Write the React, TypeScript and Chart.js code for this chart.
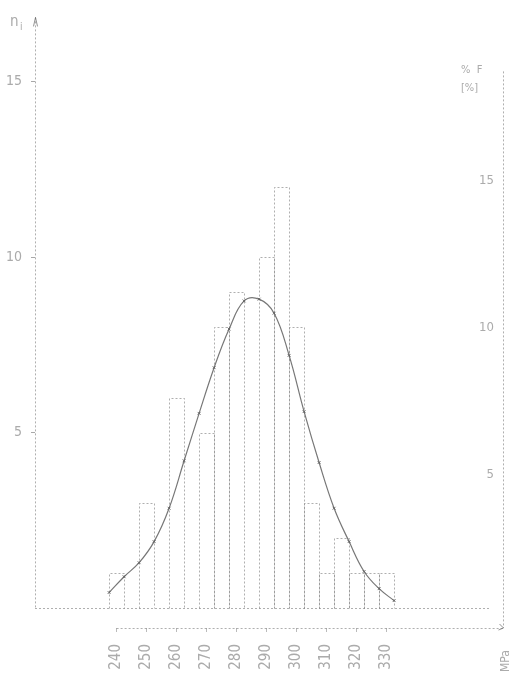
import { useEffect, useRef } from 'react';
import { Chart, registerables } from 'chart.js';

Chart.register(...registerables);

// Histogram: class centres (MPa) and absolute frequencies n_i
const binCenters = [240, 245, 250, 255, 260, 265, 270, 275, 280, 285, 290, 295, 300, 305, 310, 315, 320, 325, 330];
const counts = [1, 0, 3, 0, 6, 0, 5, 8, 9, 0, 10, 12, 8, 3, 1, 2, 1, 1, 1];

// Fitted curve read at the class boundaries
const curveX = [237.5, 242.5, 247.5, 252.5, 257.5, 262.5, 267.5, 272.5, 277.5, 282.5, 287.5, 292.5, 297.5, 302.5, 307.5, 312.5, 317.5, 322.5, 327.5, 332.5];
const curveY = [0.45, 0.9, 1.3, 1.9, 2.85, 4.2, 5.55, 6.85, 7.95, 8.75, 8.8, 8.4, 7.2, 5.6, 4.15, 2.85, 1.9, 1.05, 0.56, 0.22];

// Tick labels
const xTickLabels = [240, 250, 260, 270, 280, 290, 300, 310, 320, 330];
const leftTicks = [5, 10, 15];
const rightTicks = [5, 10, 15];

const FONT = '"DejaVu Sans Condensed", "DejaVu Sans", sans-serif';
const TEXT = '#ababab';
const LINE = 'rgba(110,110,110,0.55)';

const histPlugin = {
  id: 'histOutline',
  beforeDatasetsDraw(chart: any) {
    const meta = chart.getDatasetMeta(0);
    const ctx = chart.ctx;
    const data = chart.data.datasets[0].data as any[];
    ctx.save();
    ctx.strokeStyle = LINE;
    ctx.lineWidth = 1;
    ctx.setLineDash([2, 2]);
    meta.data.forEach((el: any, i: number) => {
      if (!data[i] || !data[i].y) return;
      const p = el.getProps(['x', 'y', 'base', 'width'], true);
      const l = Math.round(p.x - p.width / 2) + 0.5;
      const r = Math.round(p.x + p.width / 2) + 0.5;
      const t = Math.round(p.y) + 0.5;
      const b = Math.round(p.base) + 0.5;
      ctx.beginPath();
      ctx.moveTo(l, b);
      ctx.lineTo(l, t);
      ctx.lineTo(r, t);
      ctx.lineTo(r, b);
      ctx.stroke();
    });
    ctx.restore();
  },
};

const decoPlugin = {
  id: 'deco',
  afterDraw(chart: any) {
    const { ctx, chartArea } = chart;
    const x = chart.scales.x;
    const yL = chart.scales.y;
    ctx.save();
    ctx.strokeStyle = LINE;
    ctx.lineWidth = 1;
    ctx.setLineDash([2, 2]);
    const y0 = Math.round(yL.getPixelForValue(0)) + 0.5;
    // baseline
    ctx.beginPath();
    ctx.moveTo(chartArea.left, y0);
    ctx.lineTo(chartArea.right - 13, y0);
    ctx.stroke();
    // lower (value) axis
    const yb = Math.round(chartArea.bottom) + 0.5;
    ctx.beginPath();
    ctx.moveTo(x.getPixelForValue(240), yb);
    ctx.lineTo(chartArea.right, yb);
    ctx.stroke();
    // left axis
    const xl = Math.round(chartArea.left) + 0.5;
    ctx.beginPath();
    ctx.moveTo(xl, chartArea.top);
    ctx.lineTo(xl, y0);
    ctx.stroke();
    // right axis
    const xr = Math.round(chartArea.right) + 0.5;
    ctx.beginPath();
    ctx.moveTo(xr, chartArea.top + 54);
    ctx.lineTo(xr, chartArea.bottom);
    ctx.stroke();
    ctx.setLineDash([]);
    // arrowheads
    ctx.strokeStyle = 'rgba(100,100,100,0.7)';
    ctx.beginPath();
    ctx.moveTo(xl - 2, chartArea.top + 9);
    ctx.lineTo(xl, chartArea.top);
    ctx.lineTo(xl + 2, chartArea.top + 9);
    ctx.stroke();
    ctx.beginPath();
    ctx.moveTo(xr - 4, chartArea.bottom - 4);
    ctx.lineTo(xr, chartArea.bottom);
    ctx.lineTo(xr - 5, chartArea.bottom + 2);
    ctx.stroke();
    // texts
    ctx.fillStyle = TEXT;
    ctx.textBaseline = 'alphabetic';
    ctx.textAlign = 'left';
    ctx.font = `15px ${FONT}`;
    ctx.fillText('n', 10, 26);
    ctx.font = `10px ${FONT}`;
    ctx.fillText('i', 20, 30);
    ctx.font = `11px ${FONT}`;
    ctx.fillText('%  F', 461, 73);
    ctx.fillText('[%]', 461, 91);
    ctx.save();
    ctx.translate(509, 672);
    ctx.rotate(-Math.PI / 2);
    ctx.font = `12px ${FONT}`;
    ctx.fillText('MPa', 0, 0);
    ctx.restore();
    ctx.restore();
  },
};

export default function App() {
  const ref = useRef<HTMLCanvasElement>(null);

  useEffect(() => {
    if (!ref.current) return;
    const chart = new Chart(ref.current, {
      type: 'line',
      data: {
        datasets: [
          {
            type: 'bar',
            label: 'n_i',
            data: binCenters.map((c, i) => ({ x: c, y: counts[i] })),
            backgroundColor: 'rgba(0,0,0,0)',
            borderWidth: 0,
            barPercentage: 1,
            categoryPercentage: 1,
            yAxisID: 'y',
            order: 2,
          } as any,
          {
            type: 'line',
            label: 'fit',
            data: curveX.map((v, i) => ({ x: v, y: curveY[i] })),
            borderColor: 'rgba(95,95,95,0.85)',
            borderWidth: 1.2,
            tension: 0.4,
            pointStyle: 'crossRot',
            pointRadius: 2,
            pointBorderWidth: 1,
            pointBorderColor: 'rgba(95,95,95,0.9)',
            pointBackgroundColor: 'rgba(0,0,0,0)',
            fill: false,
            yAxisID: 'y',
            order: 1,
          } as any,
        ],
      },
      options: {
        animation: false,
        responsive: true,
        maintainAspectRatio: false,
        events: [],
        layout: { padding: { top: 6, left: 0, right: 0, bottom: 0 } },
        plugins: {
          legend: { display: false },
          tooltip: { enabled: false },
          title: { display: false },
        },
        scales: {
          x: {
            type: 'linear',
            min: 212.8,
            max: 368.8,
            offset: false,
            afterFit: (s: any) => { s.height = 49; },
            afterBuildTicks: (s: any) => { s.ticks = xTickLabels.map((v) => ({ value: v })); },
            border: { display: false },
            grid: { display: true, drawOnChartArea: false, drawTicks: true, tickLength: 4, color: 'rgba(120,120,120,0.5)', offset: false },
            ticks: {
              autoSkip: false,
              minRotation: 90,
              maxRotation: 90,
              padding: 12,
              color: TEXT,
              font: { family: FONT, size: 15 },
              callback: (v: any) => String(v),
            },
          },
          y: {
            type: 'linear',
            position: 'left',
            min: -0.559,
            max: 16.82,
            afterFit: (s: any) => { s.width = 35; },
            afterBuildTicks: (s: any) => { s.ticks = leftTicks.map((v) => ({ value: v })); },
            border: { display: false },
            grid: { display: true, drawOnChartArea: false, drawTicks: true, tickLength: 4, color: 'rgba(110,110,110,0.6)' },
            ticks: { padding: 9, color: TEXT, font: { family: FONT, size: 14 } },
          },
          y2: {
            type: 'linear',
            position: 'right',
            min: -0.2,
            max: 20.53,
            afterFit: (s: any) => { s.width = 8; },
            afterBuildTicks: (s: any) => { s.ticks = rightTicks.map((v) => ({ value: v })); },
            border: { display: false },
            grid: { display: false },
            ticks: { mirror: true, padding: -9, color: TEXT, font: { family: FONT, size: 13 } },
          },
        },
      },
      plugins: [histPlugin, decoPlugin],
    });
    return () => chart.destroy();
  }, []);

  return (
    <div style={{ position: 'absolute', left: 0, top: 0, width: 511, height: 677, background: '#fff' }}>
      <canvas ref={ref} />
    </div>
  );
}
